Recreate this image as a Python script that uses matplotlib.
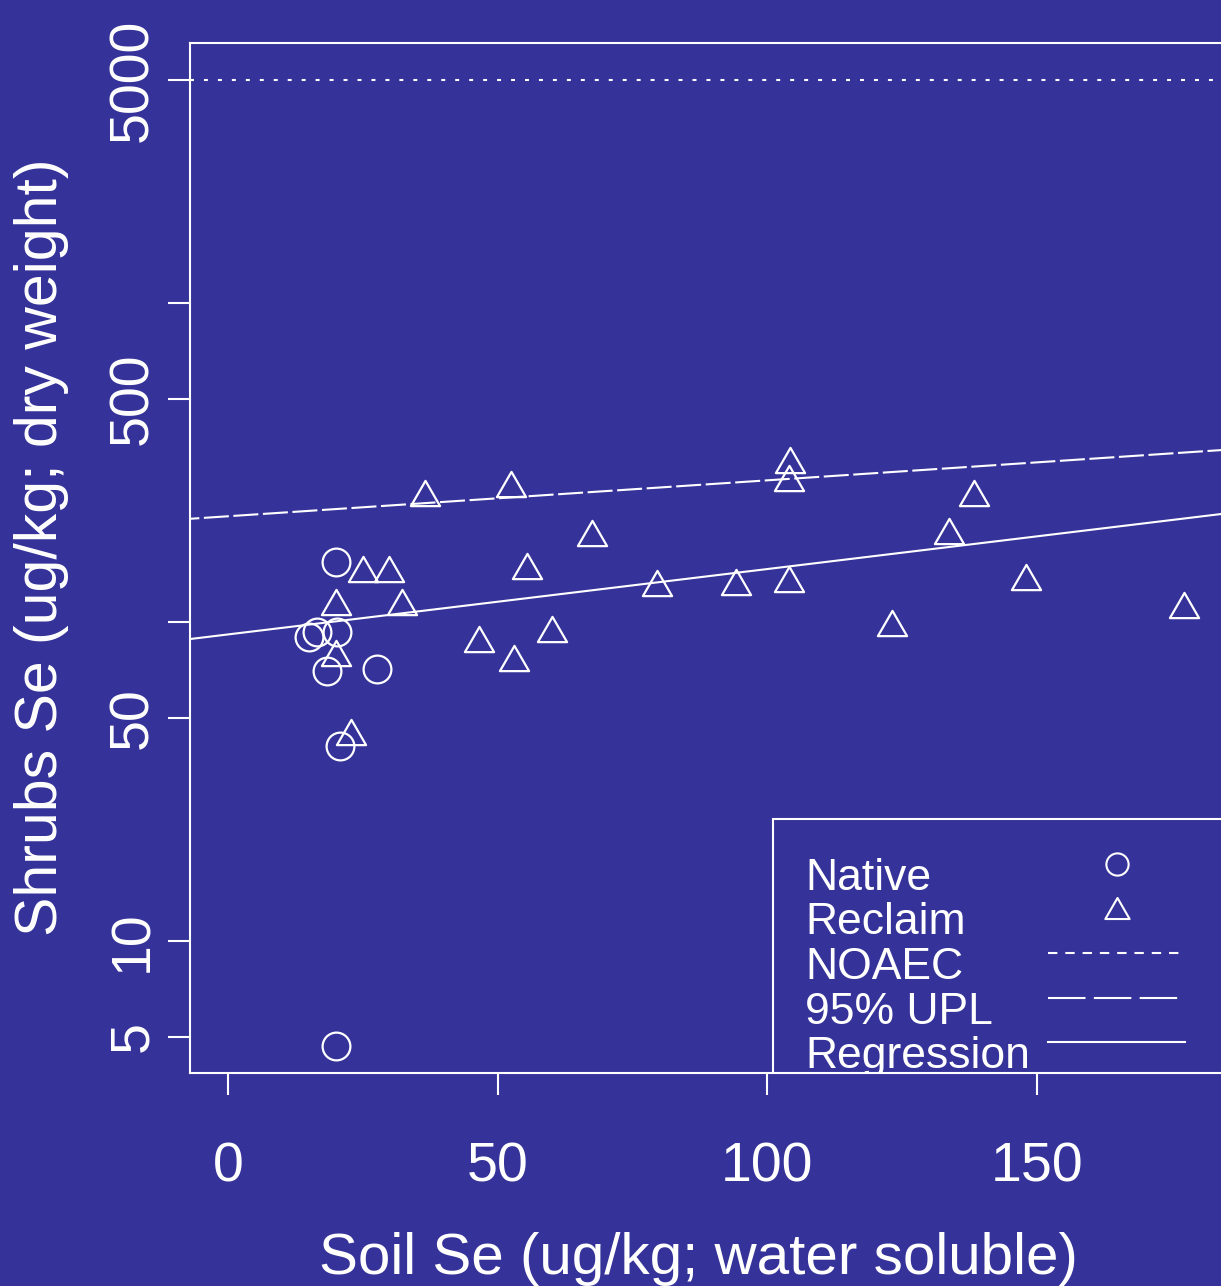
import matplotlib
matplotlib.use("Agg")
import matplotlib.pyplot as plt
from matplotlib.path import Path
from matplotlib.patches import Rectangle

plt.rcParams['font.family'] = ['Liberation Sans', 'DejaVu Sans']

BG = '#353399'
FG = 'white'

# Native sites: soil Se (water soluble) vs shrub Se (dry weight), ug/kg
native_soil = [20.0, 15.0, 16.5, 20.2, 18.3, 27.6, 20.7, 20.0]
native_shrub = [154, 89.8, 93.1, 93.1, 70.2, 71.3, 40.8, 4.69]

# Reclaimed sites
reclaim_soil = [36.5, 52.4, 67.5, 25.0, 29.8, 55.4, 20.0, 32.2, 46.5, 53.0,
                60.0, 20.0, 22.8, 104.2, 104.0, 138.3, 133.7, 79.5, 94.2,
                104.0, 148.0, 123.2, 177.3]
reclaim_shrub = [253.6, 270, 190, 146.7, 146.7, 149.6, 115.6, 115.6, 88.6, 77.1,
                 95.1, 80.0, 45.2, 322, 282, 253.6, 192.8, 132.5, 133.4,
                 136.5, 138.4, 99.4, 113]

noaec = 5000
upl_x = [-10, 190]
upl_y = [209, 351]
reg_x = [-10, 190]
reg_y = [87.2, 224]

x_ticks = [0, 50, 100, 150]
y_ticks = [5, 10, 50, 100, 500, 1000, 5000]
y_ticklabels = ['5', '10', '50', '', '500', '', '5000']
legend_labels = ['Native', 'Reclaim', 'NOAEC', '95% UPL', 'Regression']

# R style open triangle (equilateral)
tri = Path([(-1, -0.866), (1, -0.866), (0, 0.866), (-1, -0.866)], closed=True)

W, H = 1221, 1286
fig = plt.figure(figsize=(W / 100, H / 100), dpi=100, facecolor=BG)
ax = fig.add_axes([190 / W, (H - 1073) / H, 1033 / W, 1030 / H])
ax.set_facecolor(BG)
ax.set_yscale('log')
ax.set_xlim(-7.1, -7.1 + 1033 / 5.39)
ax.set_ylim(3.855, 6531)

ax.plot(native_soil, native_shrub, ls='none', marker='o', ms=20,
        mfc='none', mec=FG, mew=1.6)
ax.plot(reclaim_soil, reclaim_shrub, ls='none', marker=tri, ms=21,
        mfc='none', mec=FG, mew=1.6)

ax.axhline(noaec, color=FG, lw=1.5, dashes=(1.9, 4.8))
ax.plot(upl_x, upl_y, color=FG, lw=1.5, dashes=(12, 2.2))
ax.plot(reg_x, reg_y, color=FG, lw=1.5)

ax.set_xticks(x_ticks)
ax.set_yticks(y_ticks)
ax.set_yticklabels(y_ticklabels, rotation=90, va='center')
ax.minorticks_off()
ax.tick_params(axis='both', direction='out', length=16, width=1.5,
               color=FG, labelcolor=FG, labelsize=40)
ax.tick_params(axis='x', pad=33)
ax.tick_params(axis='y', pad=6)
for s in ax.spines.values():
    s.set_color(FG)
    s.set_linewidth(1.5)

ax.set_xlabel('Soil Se (ug/kg; water soluble)', fontsize=42, color=FG)
ax.set_ylabel('Shrubs Se (ug/kg; dry weight)', fontsize=42.5, color=FG)
ax.xaxis.set_label_coords(0.492, -0.154)
ax.yaxis.set_label_coords(-0.117, 0.51)
ax.xaxis.label.set_va('top')


# legend, drawn by hand so it is clipped by the plot box like the R original
def fx(px):
    return (px - 190) / 1033


def fy(py):
    return (1073 - py) / 1030


tr = ax.transAxes
ax.add_patch(Rectangle((fx(773), fy(1077)), 0.6, fy(819) - fy(1077),
                       transform=tr, fill=False, ec=FG, lw=1.5, clip_on=True))
for i, lab in enumerate(legend_labels):
    base = 889.5 + i * 44.7
    ax.text(fx(805), fy(base), lab, transform=tr, fontsize=32, color=FG,
            va='baseline', ha='left', clip_on=True)
    gy = fy(base - 26)
    if i == 0:
        ax.plot([fx(1117)], [gy], transform=tr, marker='o', ms=16,
                mfc='none', mec=FG, mew=1.5, ls='none')
    elif i == 1:
        ax.plot([fx(1117)], [gy], transform=tr, marker=tri, ms=17.5,
                mfc='none', mec=FG, mew=1.5, ls='none')
    else:
        style = {2: dict(dashes=(4.5, 3.8)), 3: dict(dashes=(18, 4)),
                 4: dict(ls='-')}[i]
        ax.plot([fx(1048), fx(1185)], [gy, gy], transform=tr, color=FG,
                lw=1.5, **style)

fig.savefig('out.png', dpi=100, facecolor=BG)
